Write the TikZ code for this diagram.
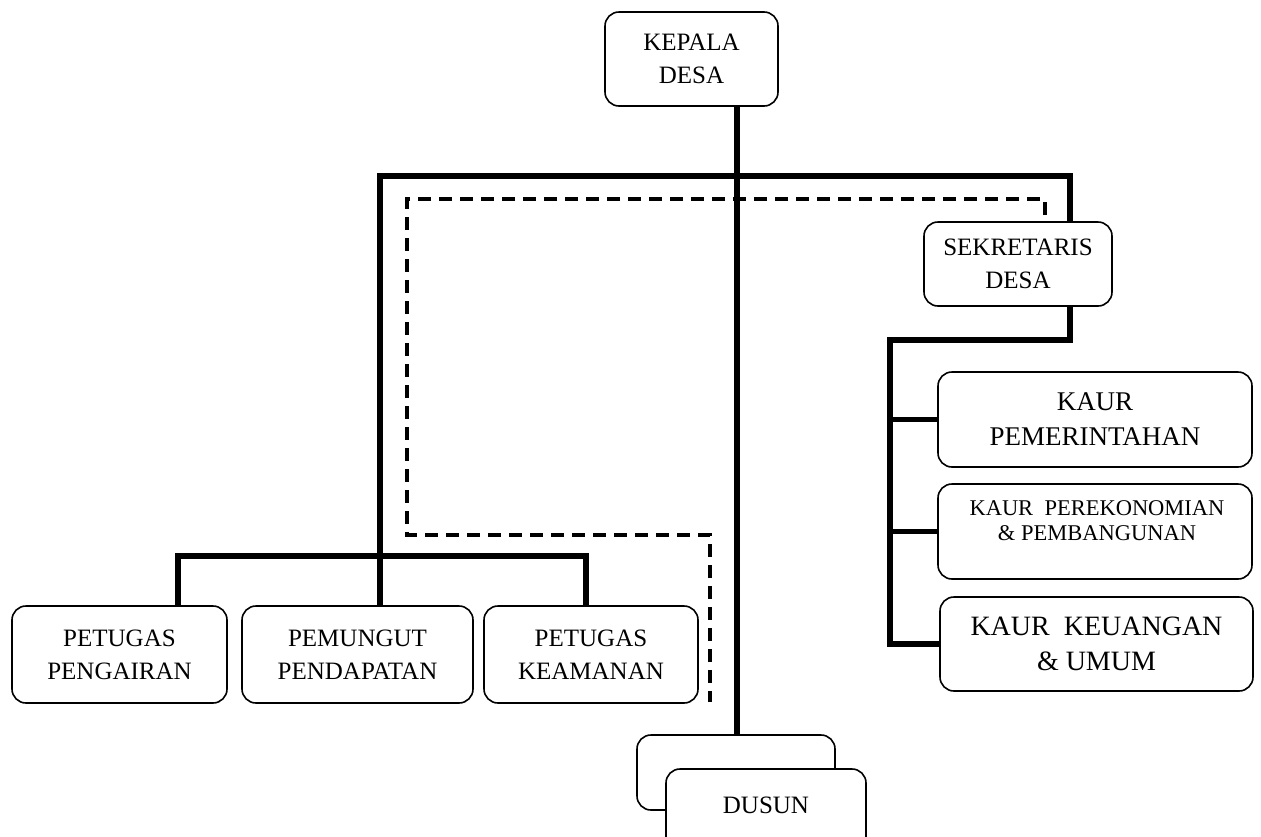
\documentclass[tikz,border=0pt]{standalone}
\usepackage{fontspec}
\setmainfont{Liberation Serif}
\newcommand\fsA{\fontsize{25}{33}\selectfont}
\newcommand\fsB{\fontsize{27}{35}\selectfont}
\newcommand\fsC{\fontsize{22.5}{25}\selectfont}
\newcommand\fsD{\fontsize{28}{35}\selectfont}
\tikzset{
  box/.style={draw, line width=1.6pt, rounded corners=14pt, fill=white, inner sep=0pt, align=center, font=\fsA},
  bus/.style={line width=5.5pt, line join=miter},
  dashlink/.style={line width=3.5pt, dash pattern=on 13pt off 8pt}
}
\begin{document}
\begin{tikzpicture}[x=1pt,y=-1pt]
\useasboundingbox (0,0) rectangle (1261,836);
% nodes
\node[box, minimum width=173pt, minimum height=94pt] (kepala) at (691.5,59) {KEPALA\\DESA};
\node[box, minimum width=188pt, minimum height=84pt] (sek) at (1018,264) {SEKRETARIS\\DESA};
\node[box, font=\fsB, minimum width=314pt, minimum height=95pt] (k1) at (1095,419.5) {KAUR\\PEMERINTAHAN};
\node[box, minimum width=314pt, minimum height=95pt] (k2) at (1095,531.5) {};
\node[font=\fsC, align=center, inner sep=0pt] (k2t) at (1097,521) {KAUR~~PEREKONOMIAN\\\& PEMBANGUNAN};
\node[box, font=\fsD, minimum width=313pt, minimum height=94pt] (k3) at (1096.5,644) {KAUR~~KEUANGAN\\\& UMUM};
\node[box, minimum width=215pt, minimum height=97pt] (p1) at (119.5,654.5) {PETUGAS\\PENGAIRAN};
\node[box, minimum width=231pt, minimum height=97pt] (p2) at (357.5,654.5) {PEMUNGUT\\PENDAPATAN};
\node[box, minimum width=214pt, minimum height=97pt] (p3) at (591,654.5) {PETUGAS\\KEAMANAN};
\node[box, minimum width=198pt, minimum height=75pt] (dusunA) at (736,772.5) {};
\node[box, minimum width=200pt, minimum height=82pt] (dusunB) at (766,810) {\raisebox{10pt}{DUSUN}};
% coordinates
\coordinate (xm) at (737,0);
\coordinate (xl) at (380,0);
\coordinate (xr) at (1070,0);
\coordinate (xs) at (890,0);
\coordinate (xa) at (178,0);
\coordinate (xc) at (586,0);
\coordinate (yt) at (0,176);
\coordinate (ys) at (0,340);
\coordinate (yb) at (0,556);
\coordinate (d1) at (710,702);
\coordinate (d2) at (710,535);
\coordinate (d3) at (407,535);
\coordinate (d4) at (407,199);
\coordinate (d5) at (1045,199);
\coordinate (d6) at (1045,215);
% connectors
\draw[bus] (kepala.south -| xm) -- (dusunA.north -| xm);
\draw[bus] (p2.north -| xl) -- (xl |- yt) -- (xr |- yt) -- (sek.north -| xr);
\draw[bus] (p1.north -| xa) -- (xa |- yb) -- (xc |- yb) -- (p3.north -| xc);
\draw[bus] (sek.south -| xr) -- (xr |- ys) -- (xs |- ys) -- (xs |- k3.west) -- (k3.west);
\draw[bus] (xs |- k1.west) -- (k1.west);
\draw[bus] (xs |- k2.west) -- (k2.west);
\draw[dashlink] (d6) -- (d5) -- (d4) -- (d3) -- (d2) -- (d1);
\end{tikzpicture}
\end{document}
